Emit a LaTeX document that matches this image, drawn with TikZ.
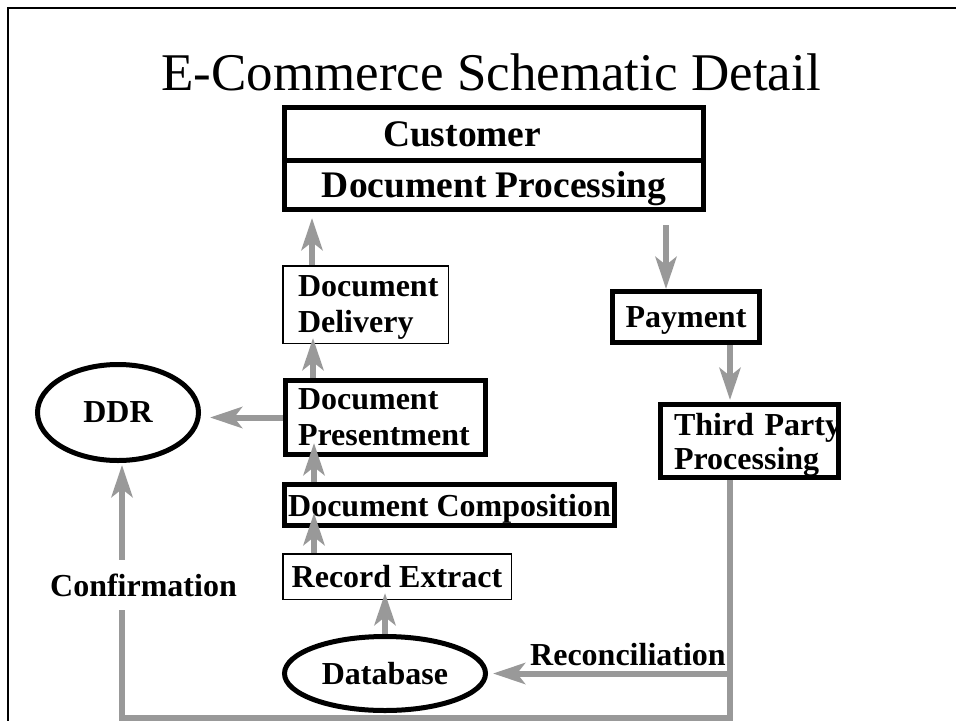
\documentclass[tikz,border=0pt]{standalone}
\usepackage{fontspec}
\setmainfont{Liberation Serif}
\usetikzlibrary{arrows.meta,shapes.geometric}
\definecolor{flow}{gray}{0.6}
\begin{document}
\begin{tikzpicture}[x=1pt,y=-1pt,
  lbl/.style={font=\fontsize{32}{36}\selectfont\bfseries, text depth=0pt},
  big/.style={font=\fontsize{37.5}{42}\selectfont\bfseries, text depth=0pt},
  heavy/.style={draw, line width=5pt, rectangle, inner sep=0pt},
  light/.style={draw, line width=1.5pt, rectangle, inner sep=0pt},
  oval/.style={draw, line width=5pt, ellipse, inner sep=0pt},
  gline/.style={draw=flow, line width=6pt, line join=miter},
  garrow/.style={gline, -{Stealth[length=32pt,width=21pt,inset=8pt]}}]
\useasboundingbox (0,0) rectangle (956,721);

% page frame
\draw[line width=1.7pt] (956,8) -- (8,8) -- (8,721);

% title
\node[font=\fontsize{53}{60}\selectfont, anchor=base, inner sep=0pt] (title)
  at (491,90) {E-Commerce Schematic Detail};

% customer block
\node[heavy, big, minimum width=419pt, minimum height=52.5pt, text width=222pt, align=left]
  (cust) at (494,133.75) {Customer};
\node[heavy, big, minimum width=419pt, minimum height=49.5pt]
  (docproc) at (494,184.75) {Document Processing};

% document chain (two-line labels: depth = one line step)
\node[light, lbl, text depth=36pt, minimum width=165.5pt, minimum height=77.5pt, text width=135pt, align=left]
  (deliv) at (365.5,304.5) {Document\\Delivery};
\node[heavy, lbl, text depth=36pt, minimum width=200pt, minimum height=74pt, text width=175pt, align=left]
  (pres) at (385.5,417.5) {Document\\Presentment};
\node[heavy, lbl, minimum width=330pt, minimum height=41pt]
  (comp) at (449.5,505) {Document Composition};
\node[light, lbl, minimum width=228.5pt, minimum height=45.5pt]
  (rec) at (397,576.5) {Record Extract};
\node[oval, lbl, minimum width=201pt, minimum height=74pt]
  (db) at (385,673.5) {Database};
\node[oval, lbl, minimum width=161pt, minimum height=96pt]
  (ddr) at (118,412.5) {DDR};

% payment chain
\node[heavy, lbl, minimum width=147pt, minimum height=51pt]
  (pay) at (686,317) {Payment};
\node[heavy, lbl, text depth=34pt, minimum width=178pt, minimum height=73pt, text width=151pt, align=left]
  (third) at (749.5,441) {\mbox{Third Party}\\[-2pt]Processing};

% flow labels
\node[lbl, minimum height=50pt, inner sep=0pt] (conf) at (143.5,585) {Confirmation};
\node[lbl, anchor=base west, inner sep=0pt] (recon) at (530,665) {Reconciliation};

% corners of the return loop
\coordinate (br) at (730,718);
\coordinate (bl) at (122,718);

% connectors
\draw[garrow, shorten >=6pt] ([xshift=30pt]deliv.north west) -- ([xshift=30pt]deliv.north west |- docproc.south);
\draw[garrow, shorten <=13pt] ([xshift=-40pt]docproc.south east) -- ([xshift=-20pt]pay.north);
\draw[garrow, shorten >=2pt] ([xshift=44pt]pay.south) -- ([xshift=44pt]pay.south |- third.north);
\draw[garrow, shorten >=-6pt] ([xshift=30pt]pres.north west) -- ([xshift=30pt]pres.north west |- deliv.south);
\draw[garrow, shorten >=9pt] (pres.west) -- (pres.west -| ddr.east);
\draw[garrow, shorten >=-14pt] ([xshift=32pt]comp.north west) -- ([xshift=32pt]comp.north west |- pres.south);
\draw[garrow, shorten >=-15pt] ([xshift=32pt]rec.north west) -- ([xshift=32pt]rec.north west |- comp.south);
\draw[garrow, shorten >=-7pt] (db.north) -- (db.north |- rec.south);

% reconciliation and confirmation loop
\draw[gline] (third.south -| br) -- (br) -- (bl) -- (bl |- conf.south);
\draw[garrow, shorten >=5pt] (br |- db.east) -- (db.east);
\draw[garrow, shorten >=2pt] (bl |- conf.north) -- (bl |- ddr.south);
\end{tikzpicture}
\end{document}
